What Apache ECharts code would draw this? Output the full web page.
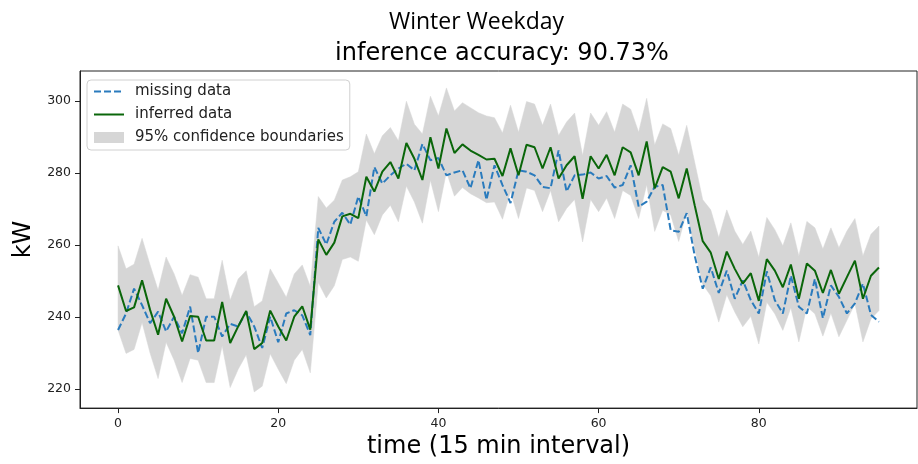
<!DOCTYPE html>
<html>
<head>
<meta charset="utf-8">
<script src="https://cdn.jsdelivr.net/npm/echarts@6/dist/echarts.min.js"></script>
<style>
html,body{margin:0;padding:0;background:#fff;}
#chart{width:918px;height:464px;}
</style>
</head>
<body>
<div id="chart"></div>
<script>
// ---- data (kW per 15-min interval) ----
const xTicks = [0, 20, 40, 60, 80];
const yTicks = [220, 240, 260, 280, 300];

const missingData = [
  236.4, 241.0, 247.9, 243.3, 238.3, 241.5, 236.0, 240.1, 235.5, 242.9,
  230.0, 240.1, 240.1, 234.6, 238.1, 237.4, 241.5, 237.4, 231.4, 240.1,
  233.0, 241.0, 241.9, 240.5, 235.0, 264.8, 260.2, 266.5, 269.0, 265.7,
  273.5, 268.0, 281.7, 277.1, 279.4, 281.3, 282.6, 280.8, 288.1, 283.6,
  284.2, 279.4, 280.2, 280.8, 275.8, 283.6, 272.6, 282.2, 276.7, 271.7,
  280.8, 280.4, 279.4, 276.2, 275.8, 286.3, 274.9, 279.4, 279.6, 280.2,
  278.5, 279.2, 276.0, 276.7, 282.2, 270.7, 272.1, 276.2, 276.7, 264.1,
  263.7, 268.9, 257.0, 247.9, 253.8, 246.7, 252.9, 245.1, 250.2, 244.7,
  241.0, 252.7, 244.7, 241.0, 251.5, 242.9, 241.0, 250.6, 239.7, 248.8,
  245.6, 241.0, 243.8, 249.3, 240.6, 238.7
];

const inferredData = [
  248.8, 241.7, 242.7, 250.2, 242.0, 235.1, 245.1, 240.1, 233.2, 240.3,
  240.1, 233.5, 233.5, 244.2, 232.8, 237.4, 241.7, 231.1, 232.8, 241.8,
  237.4, 233.5, 240.1, 243.0, 236.5, 261.6, 257.3, 260.7, 268.0, 268.7,
  267.5, 279.0, 274.9, 280.4, 283.1, 278.5, 288.4, 284.0, 278.1, 290.0,
  281.3, 292.4, 285.6, 288.0, 286.3, 285.1, 283.8, 284.0, 279.2, 286.9,
  279.4, 287.9, 287.2, 281.3, 287.2, 278.5, 282.2, 284.7, 272.9, 284.7,
  281.3, 285.1, 279.4, 287.2, 285.8, 279.4, 288.8, 275.8, 281.7, 280.4,
  273.0, 281.3, 271.0, 261.1, 257.9, 250.6, 258.2, 253.4, 249.3, 252.2,
  244.5, 256.1, 252.9, 248.3, 254.6, 245.1, 254.9, 252.9, 246.7, 253.1,
  246.5, 251.1, 255.7, 245.1, 251.5, 253.8
];

const upperBound = [
  259.8, 253.4, 254.7, 261.9, 254.5, 247.5, 256.7, 252.0, 246.0, 251.8,
  251.1, 245.1, 245.1, 255.8, 244.7, 250.6, 252.9, 242.9, 244.5, 253.4,
  249.5, 245.5, 252.0, 254.5, 248.5, 273.5, 270.3, 272.5, 278.1, 279.0,
  280.4, 290.9, 285.4, 290.4, 292.7, 289.0, 300.0, 293.6, 290.9, 301.4,
  295.9, 303.7, 297.3, 299.6, 298.2, 296.8, 295.9, 295.4, 291.2, 298.9,
  291.4, 299.9, 299.2, 293.3, 299.2, 290.5, 294.2, 296.7, 284.9, 296.7,
  293.3, 297.1, 291.4, 299.2, 297.8, 291.4, 300.8, 287.8, 293.7, 292.4,
  285.0, 293.3, 283.0, 272.6, 269.8, 262.1, 269.8, 263.9, 260.2, 263.9,
  256.6, 267.7, 264.3, 259.8, 266.2, 257.0, 266.6, 264.8, 258.9, 264.8,
  259.3, 263.9, 267.4, 257.0, 263.0, 265.3
];

const lowerBound = [
  236.4, 229.9, 231.0, 238.5, 230.0, 222.9, 233.0, 228.0, 221.8, 228.5,
  228.0, 221.8, 221.8, 232.0, 220.4, 225.5, 229.5, 219.2, 220.8, 229.8,
  225.5, 221.5, 228.0, 231.0, 224.5, 249.6, 245.3, 248.7, 256.0, 256.7,
  255.5, 267.0, 262.9, 268.4, 271.1, 266.5, 276.4, 272.0, 266.1, 278.0,
  269.3, 280.4, 273.6, 276.0, 274.3, 273.1, 271.8, 272.0, 267.2, 274.9,
  267.4, 275.9, 275.2, 269.3, 275.2, 266.5, 270.2, 272.7, 260.9, 272.7,
  269.3, 273.1, 267.4, 275.2, 273.8, 267.4, 276.8, 263.8, 269.7, 268.4,
  261.0, 269.3, 259.0, 249.1, 245.9, 238.6, 246.2, 241.4, 237.3, 240.2,
  232.5, 244.1, 240.9, 236.3, 242.6, 233.1, 242.9, 240.9, 234.7, 241.1,
  234.5, 239.1, 243.7, 233.1, 239.5, 241.8
];

// ---- build series data ----
const pairs = arr => arr.map((v, i) => [i, v]);
const bandColor = '#d6d6d6';

function renderBand(params, api) {
  const pts = [];
  for (let i = 0; i < upperBound.length; i++) pts.push(api.coord([i, upperBound[i]]));
  for (let i = lowerBound.length - 1; i >= 0; i--) pts.push(api.coord([i, lowerBound[i]]));
  return {
    type: 'polygon',
    shape: {points: pts},
    style: {fill: bandColor, stroke: bandColor, lineWidth: 0.5},
    silent: true
  };
}

const chart = echarts.init(document.getElementById('chart'), null, {renderer: 'canvas'});
const tickFont = {fontFamily: 'DejaVu Sans', fontSize: 12.5, color: '#222'};

chart.setOption({
  animation: false,
  backgroundColor: '#fff',
  graphic: [
    {type: 'text', x: 476.5, y: 22,
     style: {text: 'Winter Weekday', font: '23px "Open Sans"', fill: '#000', textAlign: 'center', textVerticalAlign: 'middle'}},
    {type: 'text', x: 502, y: 54,
     style: {text: 'inference accuracy: 90.73%', font: '24px "DejaVu Sans"', fill: '#000', textAlign: 'center', textVerticalAlign: 'middle'}}
  ],
  grid: {left: 80, right: 1, top: 71, bottom: 51.5, show: true, borderColor: '#222', borderWidth: 1, backgroundColor: 'transparent'},
  legend: {
    orient: 'vertical', left: 87, top: 80,
    padding: [4, 6, 5, 6],
    itemWidth: 30, itemHeight: 11, itemGap: 8,
    backgroundColor: 'rgba(255,255,255,0.85)',
    borderColor: '#d0d0d0', borderWidth: 1, borderRadius: 4,
    textStyle: {fontFamily: 'DejaVu Sans', fontSize: 15, color: '#222', padding: [0, 0, 0, 6]},
    data: [
      {name: 'missing data', itemStyle: {opacity: 0}},
      {name: 'inferred data', itemStyle: {opacity: 0}},
      {name: '95% confidence boundaries', icon: 'rect', itemStyle: {color: bandColor}}
    ]
  },
  xAxis: {
    type: 'value', min: -4.75, max: 99.75,
    name: 'time (15 min interval)', nameLocation: 'middle', nameGap: 21,
    nameTextStyle: {fontFamily: 'DejaVu Sans', fontSize: 24, color: '#000'},
    axisLine: {show: true, onZero: false, lineStyle: {color: '#222', width: 1}},
    axisTick: {show: true, length: 5, lineStyle: {color: '#222'}, customValues: xTicks},
    axisLabel: Object.assign({margin: 9, customValues: xTicks}, tickFont),
    splitLine: {show: false}
  },
  yAxis: {
    type: 'value', min: 214.7, max: 308.4,
    name: 'kW', nameLocation: 'middle', nameGap: 30,
    nameTextStyle: {fontFamily: 'DejaVu Sans', fontSize: 24, color: '#000'},
    axisLine: {show: true, onZero: false, lineStyle: {color: '#222', width: 1}},
    axisTick: {show: true, length: 5, lineStyle: {color: '#222'}, customValues: yTicks},
    axisLabel: Object.assign({margin: 9, customValues: yTicks}, tickFont),
    splitLine: {show: false}
  },
  series: [
    {
      name: '95% confidence boundaries', type: 'custom',
      renderItem: renderBand, data: [[0, upperBound[0]]],
      itemStyle: {color: bandColor}, silent: true, z: 1
    },
    {
      name: 'missing data', type: 'line', data: pairs(missingData),
      symbol: 'none', color: '#2a7bbd',
      lineStyle: {color: '#2a7bbd', width: 2, type: [7, 3]}, z: 3
    },
    {
      name: 'inferred data', type: 'line', data: pairs(inferredData),
      symbol: 'none', color: '#0a660a',
      lineStyle: {color: '#0a660a', width: 2}, z: 4
    }
  ]
});
</script>
</body>
</html>
